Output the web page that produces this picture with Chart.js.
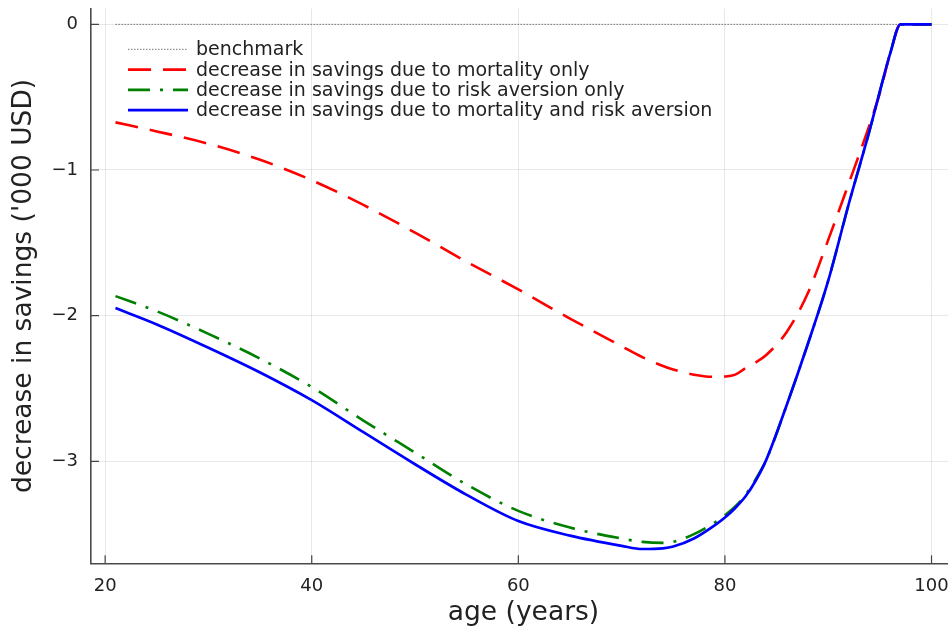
<!DOCTYPE html>
<html>
<head>
<meta charset="utf-8">
<script src="https://cdn.jsdelivr.net/npm/chart.js@4.4.0/dist/chart.umd.min.js"></script>
<style>
  html, body { margin: 0; padding: 0; background: #fff; overflow: hidden; }
  #wrap { width: 970px; height: 626px; }
</style>
</head>
<body>
<div id="wrap"><canvas id="savingsChart" width="970" height="626"></canvas></div>
<script>
// ages (years) and savings gaps ('000 USD)
const ages = [21, 25, 30, 35, 40, 45, 50, 55, 60, 65, 70, 72, 74, 75, 77, 79, 80, 81, 82, 83, 84, 86, 88, 90, 92, 94, 95, 96, 97, 98, 100];
const benchmark = [0, 0, 0, 0, 0, 0, 0, 0, 0, 0, 0, 0, 0, 0, 0, 0, 0, 0, 0, 0, 0, 0, 0, 0, 0, 0, 0, 0, 0, 0, 0];
const mortalityOnly = [-0.673, -0.735, -0.82, -0.93, -1.07, -1.24, -1.43, -1.63, -1.82, -2.02, -2.21, -2.285, -2.345, -2.37, -2.405, -2.42, -2.418, -2.405, -2.36, -2.32, -2.27, -2.11, -1.85, -1.48, -1.09, -0.69, -0.47, -0.2, 0, 0, 0];
const riskAversionOnly = [-1.866, -1.97, -2.125, -2.295, -2.49, -2.72, -2.94, -3.16, -3.34, -3.455, -3.53, -3.553, -3.56, -3.553, -3.5, -3.42, -3.37, -3.31, -3.23, -3.12, -2.99, -2.61, -2.2, -1.76, -1.23, -0.73, -0.46, -0.2, 0, 0, 0];
const mortalityAndRisk = [-1.948, -2.06, -2.22, -2.39, -2.58, -2.80, -3.02, -3.23, -3.41, -3.51, -3.58, -3.602, -3.597, -3.585, -3.53, -3.44, -3.386, -3.32, -3.24, -3.13, -2.99, -2.61, -2.2, -1.76, -1.23, -0.73, -0.46, -0.2, 0, 0, 0];

const xTicks = [20, 40, 60, 80, 100];
const yTicks = [0, -1, -2, -3];

const FONT = '"DejaVu Sans", "Liberation Sans", sans-serif';
const TEXT = '#222';

const pts = arr => ages.map((a, i) => ({ x: a, y: arr[i] }));

// legend drawn inside the plot, top left, no frame
const lineLegend = {
  id: 'lineLegend',
  afterDraw(chart) {
    const { ctx, chartArea } = chart;
    const x0 = chartArea.left + 37, x1 = chartArea.left + 97, tx = chartArea.left + 105;
    let y = chartArea.top + 40.7;
    ctx.save();
    ctx.font = '19px ' + FONT;
    ctx.textBaseline = 'middle';
    chart.data.datasets.forEach(ds => {
      ctx.strokeStyle = ds.borderColor;
      ctx.lineWidth = ds.borderWidth;
      ctx.setLineDash(ds.borderDash || []);
      ctx.beginPath();
      ctx.moveTo(x0, y);
      ctx.lineTo(x1, y);
      ctx.stroke();
      ctx.setLineDash([]);
      ctx.fillStyle = TEXT;
      ctx.fillText(ds.label, tx, y + 1);
      y += 20.3;
    });
    ctx.restore();
  }
};

// short tick marks pointing into the plot
const innerTicks = {
  id: 'innerTicks',
  afterDraw(chart) {
    const { ctx, chartArea, scales } = chart;
    ctx.save();
    ctx.strokeStyle = '#444';
    ctx.lineWidth = 1.2;
    ctx.beginPath();
    scales.x.ticks.forEach(t => {
      const px = scales.x.getPixelForValue(t.value);
      ctx.moveTo(px, chartArea.bottom);
      ctx.lineTo(px, chartArea.bottom - 8);
    });
    scales.y.ticks.forEach(t => {
      const py = scales.y.getPixelForValue(t.value);
      ctx.moveTo(chartArea.left, py);
      ctx.lineTo(chartArea.left + 8, py);
    });
    ctx.stroke();
    ctx.restore();
  }
};

const ctx = document.getElementById('savingsChart').getContext('2d');
new Chart(ctx, {
  type: 'line',
  data: {
    datasets: [{
      label: 'benchmark',
      data: pts(benchmark),
      borderColor: 'rgba(70,70,70,0.75)',
      borderWidth: 1,
      borderDash: [1.5, 1.5],
      order: 4
    }, {
      label: 'decrease in savings due to mortality only',
      data: pts(mortalityOnly),
      borderColor: '#ff0000',
      borderWidth: 2.6,
      borderDash: [23, 12],
      order: 3
    }, {
      label: 'decrease in savings due to risk aversion only',
      data: pts(riskAversionOnly),
      borderColor: '#008000',
      borderWidth: 2.6,
      borderDash: [22, 10, 3, 10],
      order: 2
    }, {
      label: 'decrease in savings due to mortality and risk aversion',
      data: pts(mortalityAndRisk),
      borderColor: '#0000ff',
      borderWidth: 2.7,
      order: 1
    }]
  },
  options: {
    responsive: false,
    animation: false,
    devicePixelRatio: 1,
    layout: { padding: { left: 0, right: 14, top: 8.6, bottom: 0 } },
    elements: {
      point: { radius: 0 },
      line: { cubicInterpolationMode: 'monotone', fill: false }
    },
    plugins: {
      legend: { display: false },
      tooltip: { enabled: false }
    },
    scales: {
      x: {
        type: 'linear',
        min: 18.63,
        max: 102.37,
        afterBuildTicks: s => { s.ticks = xTicks.map(v => ({ value: v })); },
        afterFit: s => { s.height = 62.7; s.paddingLeft = 0; s.paddingRight = 0; },
        ticks: {
          font: { family: FONT, size: 18 },
          color: TEXT,
          padding: 12,
          maxRotation: 0
        },
        grid: { color: 'rgba(0,0,0,0.09)', lineWidth: 1, drawTicks: false },
        border: { display: true, color: '#4a4a4a', width: 1.6 },
        title: {
          display: true,
          text: 'age (years)',
          font: { family: FONT, size: 26.5, lineHeight: 1 },
          color: TEXT,
          padding: { top: 0, bottom: 0 }
        }
      },
      y: {
        type: 'linear',
        min: -3.70,
        max: 0.108,
        afterBuildTicks: s => { s.ticks = yTicks.map(v => ({ value: v })); },
        afterFit: s => { s.width = 91; s.paddingTop = 0; s.paddingBottom = 0; },
        ticks: {
          font: { family: FONT, size: 18 },
          color: TEXT,
          padding: 13,
          callback: v => (v < 0 ? '\u2212' + Math.abs(v) : String(v))
        },
        grid: { color: 'rgba(0,0,0,0.09)', lineWidth: 1, drawTicks: false },
        border: { display: true, color: '#4a4a4a', width: 1.6 },
        title: {
          display: true,
          text: "decrease in savings ('000 USD)",
          font: { family: FONT, size: 26.5, lineHeight: 1 },
          color: TEXT,
          padding: { top: 11, bottom: 0 }
        }
      }
    }
  },
  plugins: [lineLegend, innerTicks]
});
</script>
</body>
</html>
